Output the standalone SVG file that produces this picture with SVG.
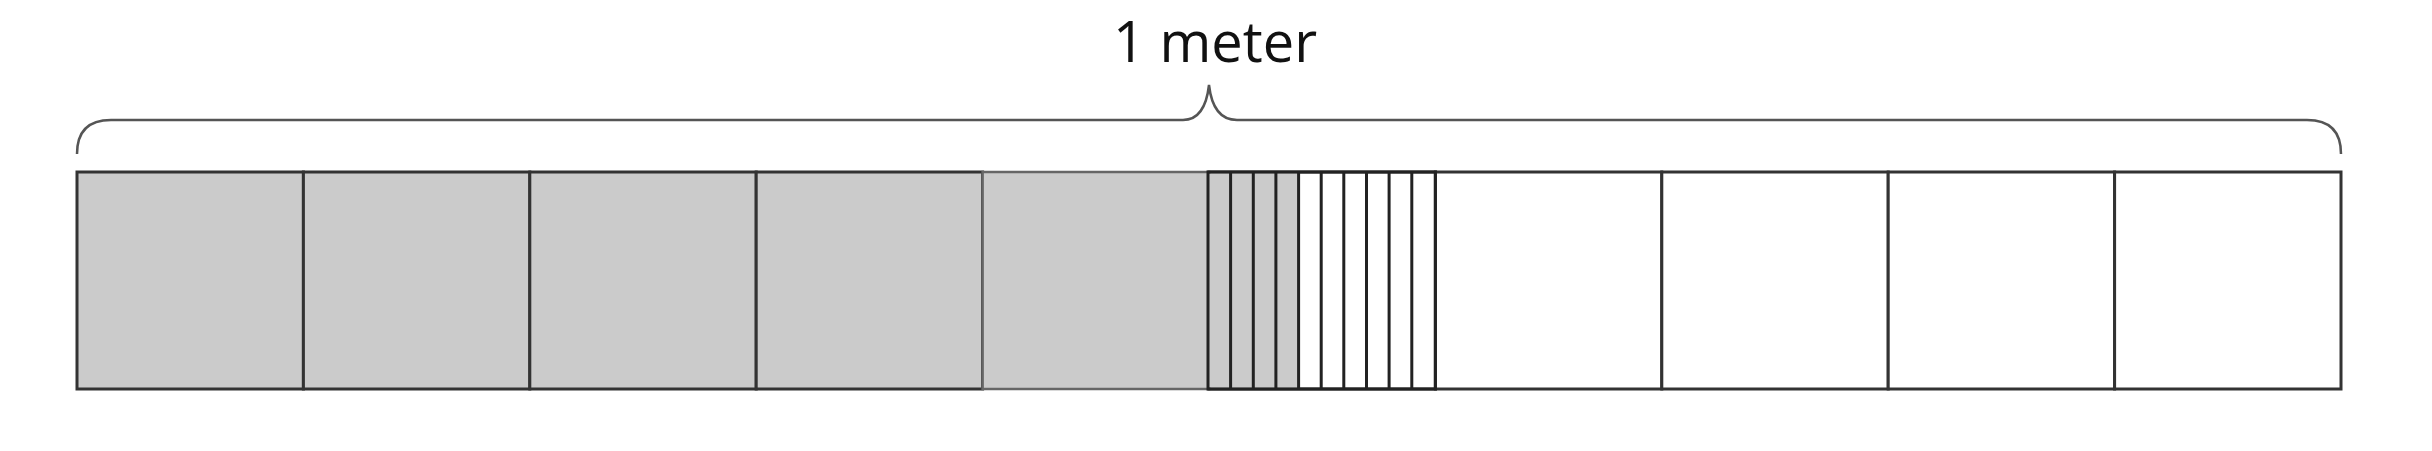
<svg xmlns="http://www.w3.org/2000/svg" width="2432" height="451" viewBox="0 0 2432 451">
<style>
.cell{stroke:#333;stroke-width:3;}
.gray{fill:#cbcbcb;}
.white{fill:#fff;}
.fine{stroke:#222;stroke-width:3;fill:none;}
.brace{fill:none;stroke:#555;stroke-width:2.5;}
.label{font-family:"Open Sans","Liberation Sans",sans-serif;font-size:56px;fill:#111;}
</style>
<rect width="2432" height="451" fill="#fff"/>
<g id="label"><text class="label" x="1215" y="62" text-anchor="middle">1 meter</text></g>
<g id="brace"><path class="brace" d="M77,154 Q77,120 111,120 L1183,120 Q1205,120 1209,85 Q1213,120 1237,120 L2307,120 Q2341,120 2341,154"/></g>
<g id="cells">
<rect id="c1" class="cell gray" x="77" y="172" width="226.4" height="217"/>
<rect id="c2" class="cell gray" x="303.4" y="172" width="226.4" height="217"/>
<rect id="c3" class="cell gray" x="529.8" y="172" width="226.4" height="217"/>
<rect id="c4" class="cell gray" x="756.2" y="172" width="226.4" height="217"/>
<rect id="c5" class="gray" x="982.6" y="172" width="226.4" height="217" stroke="#666" stroke-width="2.5"/>
<rect id="c6" class="cell white" x="1209" y="172" width="226.4" height="217"/>
<rect id="c7" class="cell white" x="1435.4" y="172" width="226.4" height="217"/>
<rect id="c8" class="cell white" x="1661.8" y="172" width="226.4" height="217"/>
<rect id="c9" class="cell white" x="1888.2" y="172" width="226.4" height="217"/>
<rect id="c10" class="cell white" x="2114.6" y="172" width="226.4" height="217"/>
</g>
<g id="fine">
<rect class="gray" x="1209" y="173.5" width="90.6" height="214"/>
<rect class="fine" x="1208" y="172" width="227.4" height="217"/>
<path class="fine" d="M1230.6,172V389M1253.3,172V389M1275.9,172V389M1298.6,172V389M1321.2,172V389M1343.8,172V389M1366.5,172V389M1389.1,172V389M1411.8,172V389"/>
</g>
</svg>
